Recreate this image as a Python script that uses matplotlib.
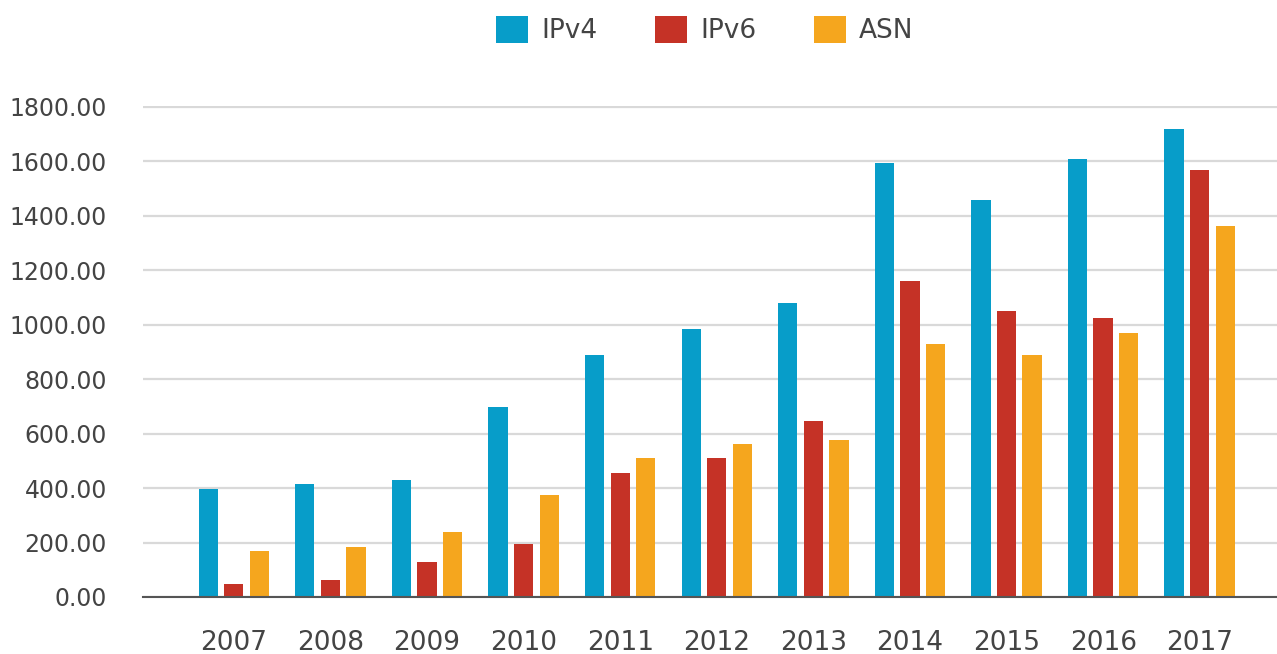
import matplotlib
matplotlib.use("Agg")
import matplotlib.pyplot as plt
import numpy as np

years = ["2007", "2008", "2009", "2010", "2011", "2012", "2013", "2014", "2015", "2016", "2017"]
ipv4 = [398, 415, 428, 699, 889, 985, 1078, 1595, 1458, 1608, 1718]
ipv6 = [48, 62, 129, 196, 456, 509, 646, 1161, 1052, 1025, 1567]
asn = [170, 183, 238, 373, 509, 563, 577, 929, 889, 970, 1363]
series_names = ["IPv4", "IPv6", "ASN"]
colors = ["#079DC9", "#C53226", "#F5A61E"]

fig = plt.figure(figsize=(12.77, 6.54), dpi=100)
ax = fig.add_axes([143/1277, 57/654, 1 - 143/1277, (597-106)/654])

x = np.arange(len(years))
w = 0.2
off = 0.265
for i, (vals, name, c) in enumerate(zip([ipv4, ipv6, asn], series_names, colors)):
    ax.bar(x + (i - 1) * off, vals, width=w, color=c, label=name, zorder=3)

ax.set_xlim(-0.94, 10.8)
ax.set_yticks(np.arange(0, 1801, 200))
ax.set_yticklabels([f"{v:.2f}" for v in np.arange(0, 1801, 200)])
ax.set_xticks(x)
ax.set_xticklabels(years)
ax.yaxis.grid(True, color="#d9d9d9", linewidth=1.6, zorder=0)
ax.set_axisbelow(True)
for s in ["top", "right", "left"]:
    ax.spines[s].set_visible(False)
ax.spines["bottom"].set_color("#555555")
ax.spines["bottom"].set_linewidth(1.5)
ax.spines["bottom"].set_zorder(4)
ax.tick_params(axis="both", length=0, colors="#444444")
ax.tick_params(axis="y", labelsize=17, pad=26)
ax.tick_params(axis="x", labelsize=19, pad=24)
for lab in ax.get_yticklabels() + ax.get_xticklabels():
    lab.set_color("#444444")

ax.set_ylim(0, 1803)

fig.legend(loc="upper center", bbox_to_anchor=(705/1277, 1.012), ncol=3, frameon=False,
           fontsize=19, handlelength=1.2, handleheight=1.2, handletextpad=0.5,
           columnspacing=2.2, labelcolor="#444444")

fig.savefig("out.png", dpi=100)
